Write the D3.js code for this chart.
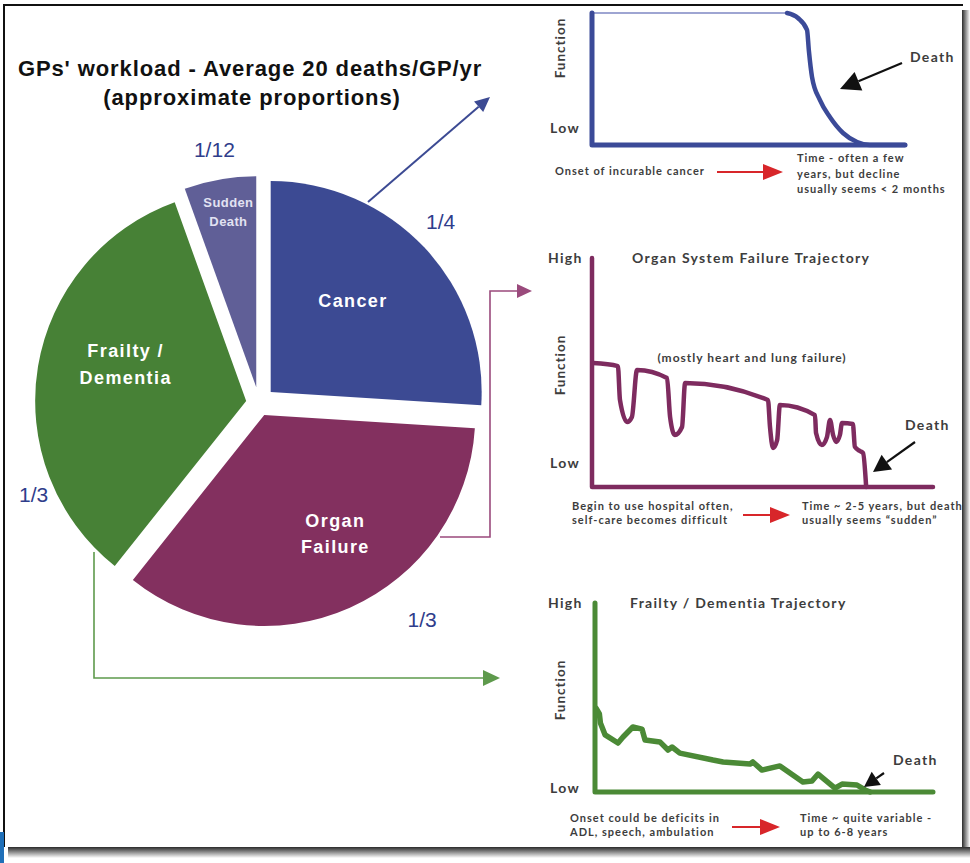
<!DOCTYPE html>
<html>
<head>
<meta charset="utf-8">
<script src="https://cdn.jsdelivr.net/npm/d3@7"></script>
<style>
  body { margin: 0; background: #fff; }
  svg { display: block; }
  .title { font-family: 'Liberation Sans', Arial, sans-serif; font-weight: bold; font-size: 22px; letter-spacing: 0.9px; fill: #111; text-anchor: middle; }
  .pie-label { font-family: 'Liberation Sans', Arial, sans-serif; font-weight: bold; text-anchor: middle; }
  .fraction { font-family: 'Liberation Sans', Arial, sans-serif; font-size: 21px; fill: #2f3d8b; text-anchor: middle; }
  .note { font-family: Lato, 'Open Sans', sans-serif; font-weight: bold; font-size: 11px; letter-spacing: 1px; fill: #3d3d3d; }
  .big { font-size: 14px; letter-spacing: 1.3px; }
</style>
</head>
<body>
<div id="chart"></div>
<script>
// pie slices, clockwise from 12 o'clock (shares as drawn, fractions as labelled)
const sliceLabels = [['Cancer'], ['Organ', 'Failure'], ['Frailty /', 'Dementia'], ['Sudden', 'Death']];
const sliceShares = [0.26, 0.347, 0.338, 0.055];
const sliceFractions = ['1/4', '1/3', '1/3', '1/12'];
const sliceColors = ['#3c4a93', '#83305f', '#478136', '#605f97'];

// trajectories: time (0-100) vs function (0-100)
const cancerTime = [0, 62.3, 65.8, 68.7, 69.3, 70.3, 72.8, 76, 80.2, 84.7, 88.8, 100];
const cancerFunction = [100, 100, 96.2, 87.1, 71.2, 51.5, 34.1, 21.2, 9.1, 2.3, 0, 0];

const organTime = [0.3, 7.6, 8.2, 10.3, 11.7, 13.2, 22, 22.9, 24.3, 26.4, 27.3, 51.6, 52.2, 53.1, 54.3, 55.1,
  65.4, 65.7, 67.4, 68.9, 69.8, 70.7, 71.6, 72.7, 73.3, 76.5, 77.1, 78.6, 79.5, 80.4];
const organFunction = [54.1, 52.8, 38, 28.4, 30.6, 51.1, 47.6, 30.6, 22.7, 26.2, 45.4, 38, 26.2, 17, 20.5, 35.8,
  31.4, 23.6, 18.3, 21.8, 29.3, 22.7, 19.7, 22.7, 27.9, 27.5, 17.5, 15.7, 14.8, 0];

const frailtyTime = [0.3, 1.3, 1.6, 3, 6.8, 8.3, 11.2, 13.9, 14.8, 19.2, 21.6, 22.8, 25.1, 34.9, 37.9, 45.9, 46.7,
  49.4, 54.7, 61.5, 64.2, 66, 71, 73.1, 77.5, 79.9, 81.4];
const frailtyFunction = [44.4, 41.3, 36.5, 30.2, 25.9, 29.1, 34.4, 33.3, 27.5, 26.5, 22.2, 23.8, 20.6, 16.9, 15.9,
  14.8, 15.9, 11.6, 13.8, 5.3, 5.8, 9.5, 2.1, 4.2, 3.7, 1.1, 0];

const width = 970, height = 863;

const svg = d3.select('#chart').append('svg')
  .attr('width', width)
  .attr('height', height);

const defs = svg.append('defs');
const shadowB = defs.append('linearGradient').attr('id', 'shadow-b').attr('x1', 0).attr('y1', 0).attr('x2', 0).attr('y2', 1);
shadowB.append('stop').attr('offset', 0).attr('stop-color', '#2a2a2a');
shadowB.append('stop').attr('offset', 1).attr('stop-color', '#fff');
const shadowR = defs.append('linearGradient').attr('id', 'shadow-r').attr('x1', 0).attr('y1', 0).attr('x2', 1).attr('y2', 0);
shadowR.append('stop').attr('offset', 0).attr('stop-color', '#2a2a2a');
shadowR.append('stop').attr('offset', 1).attr('stop-color', '#fff');
defs.append('clipPath').attr('id', 'frame-clip')
  .append('rect').attr('x', 4).attr('y', 5).attr('width', 958).attr('height', 842);

// frame with drop shadow
svg.append('rect').attr('x', 962).attr('y', 10).attr('width', 8).attr('height', 848).attr('fill', 'url(#shadow-r)');
svg.append('rect').attr('x', 8).attr('y', 847).attr('width', 962).attr('height', 11).attr('fill', 'url(#shadow-b)');
svg.append('line').attr('x1', 3).attr('y1', 5).attr('x2', 963).attr('y2', 5).attr('stroke', '#111').attr('stroke-width', 2);
svg.append('line').attr('x1', 4).attr('y1', 5).attr('x2', 4).attr('y2', 847).attr('stroke', '#111').attr('stroke-width', 2);
svg.append('rect').attr('x', 0).attr('y', 832).attr('width', 4).attr('height', 31).attr('fill', '#1f6fb8');

const g = svg.append('g').attr('clip-path', 'url(#frame-clip)');

function arrow(parent, pts, color, w, headLen, headHalf) {
  const [x2, y2] = pts[pts.length - 1];
  const [x1, y1] = pts[pts.length - 2];
  const ang = Math.atan2(y2 - y1, x2 - x1);
  const bx = x2 - headLen * Math.cos(ang), by = y2 - headLen * Math.sin(ang);
  const shaft = pts.slice(0, -1).concat([[bx, by]]);
  parent.append('path')
    .attr('d', d3.line()(shaft))
    .attr('fill', 'none')
    .attr('stroke', color)
    .attr('stroke-width', w);
  const nx = -Math.sin(ang) * headHalf, ny = Math.cos(ang) * headHalf;
  parent.append('path')
    .attr('d', `M${x2},${y2}L${bx + nx},${by + ny}L${bx - nx},${by - ny}Z`)
    .attr('fill', color);
}

// title
g.append('text').attr('class', 'title').attr('x', 250).attr('y', 76).text("GPs' workload - Average 20 deaths/GP/yr");
g.append('text').attr('class', 'title').attr('x', 252).attr('y', 105).text('(approximate proportions)');

// connectors from slices to trajectories
arrow(g, [[368, 202], [490, 97]], '#3c4a93', 2, 15, 7);
arrow(g, [[440, 537], [490, 537], [490, 291], [532, 291]], '#9a4a7c', 1.6, 15, 7);
arrow(g, [[94, 552], [94, 678], [500, 678]], '#5e9a4c', 1.6, 17, 8);

// pie
const pieCenter = [259, 403];
const radius = 211;
const explode = [16, 13, 13, 16];
const labelPolar = [[42, 123], [149, 138], [287, 126], [351, 178]];
const labelSize = [18, 18, 18, 13];
const labelGap = [0, 26, 27, 19];
const fractionPolar = [[45, 257], [143, 271], [248, 243], [350, 257]];

const pie = d3.pie().sort(null).value(d => d);
const arc = d3.arc().innerRadius(0).outerRadius(radius);
const arcs = pie(sliceShares);

const pieG = g.append('g').attr('transform', `translate(${pieCenter[0]},${pieCenter[1]})`);

const slices = pieG.selectAll('g.slice')
  .data(arcs)
  .enter().append('g')
    .attr('class', 'slice')
    .attr('transform', (d, i) => {
      const mid = (d.startAngle + d.endAngle) / 2;
      return `translate(${explode[i] * Math.sin(mid)},${-explode[i] * Math.cos(mid)})`;
    });

slices.append('path')
  .attr('d', arc)
  .attr('fill', (d, i) => sliceColors[i]);

slices.each(function(d, i) {
  const a = labelPolar[i][0] * Math.PI / 180, r = labelPolar[i][1];
  const lines = sliceLabels[i];
  const t = d3.select(this).append('text')
    .attr('class', 'pie-label')
    .attr('font-size', labelSize[i])
    .attr('letter-spacing', i === 3 ? 0.4 : 1.4)
    .attr('fill', i === 3 ? '#e2e2f2' : '#fff')
    .attr('transform', `translate(${r * Math.sin(a)},${-r * Math.cos(a)})`);
  lines.forEach((line, j) => {
    t.append('tspan')
      .attr('x', 0)
      .attr('y', (j - (lines.length - 1) / 2) * labelGap[i] + labelSize[i] * 0.36)
      .text(line);
  });
});

pieG.selectAll('text.fraction')
  .data(sliceFractions)
  .enter().append('text')
    .attr('class', 'fraction')
    .attr('x', (d, i) => fractionPolar[i][1] * Math.sin(fractionPolar[i][0] * Math.PI / 180))
    .attr('y', (d, i) => -fractionPolar[i][1] * Math.cos(fractionPolar[i][0] * Math.PI / 180))
    .attr('dy', '0.36em')
    .text(d => d);

// trajectory panels
function panel(cfg) {
  const x = d3.scaleLinear().domain([0, 100]).range(cfg.xRange);
  const y = d3.scaleLinear().domain([0, 100]).range(cfg.yRange);
  const p = g.append('g');
  const pts = d3.zip(cfg.time, cfg.func);

  if (cfg.plateau) {
    p.append('path')
      .attr('d', d3.line().x(d => x(d[0])).y(d => y(d[1]))(pts.slice(0, cfg.plateau + 1)))
      .attr('fill', 'none').attr('stroke', '#9ea5d2').attr('stroke-width', 2.2);
  }
  p.append('path')
    .attr('d', d3.line().x(d => x(d[0])).y(d => y(d[1])).curve(cfg.curve)(pts.slice(cfg.plateau || 0)))
    .attr('fill', 'none')
    .attr('stroke', cfg.color)
    .attr('stroke-width', cfg.lineWidth)
    .attr('stroke-linejoin', 'round')
    .attr('stroke-linecap', 'round');

  // axes
  p.append('path')
    .attr('d', d3.line()([[x(0), y(cfg.yTop)], [x(0), y(0)], [x(100), y(0)]]))
    .attr('fill', 'none')
    .attr('stroke', cfg.color)
    .attr('stroke-width', cfg.axisWidth)
    .attr('stroke-linecap', 'round')
    .attr('stroke-linejoin', 'round');

  const fx = 561, fy = (y(cfg.yTop) + y(0)) / 2 - cfg.funcShift;
  p.append('text').attr('class', 'note')
    .attr('transform', `translate(${fx + 4},${fy}) rotate(-90)`)
    .attr('text-anchor', 'middle').style('font-size', '13.5px').style('letter-spacing', '1px').text('Function');
  p.append('text').attr('class', 'note big').attr('x', 550).attr('y', y(0) - cfg.lowShift).text('Low');
  if (cfg.title) {
    p.append('text').attr('class', 'note big').attr('x', 548).attr('y', y(100) + 5).text('High');
    p.append('text').attr('class', 'note big').attr('x', cfg.titleX).attr('y', y(100) + 5).text(cfg.title);
  }
  if (cfg.sub) {
    p.append('text').attr('class', 'note').attr('x', cfg.sub[1]).attr('y', cfg.sub[2])
      .attr('text-anchor', 'middle').style('font-size', '12px').style('letter-spacing', '1px').text(cfg.sub[0]);
  }
  p.append('text').attr('class', 'note big').attr('x', cfg.death[0]).attr('y', cfg.death[1]).text('Death');
  arrow(p, cfg.deathArrow, '#111', 2.2, cfg.deathHead[0], cfg.deathHead[1]);

  cfg.left.forEach((s, j) => {
    p.append('text').attr('class', 'note').attr('x', cfg.leftX).attr('y', cfg.leftY + j * cfg.lineGap).text(s);
  });
  cfg.right.forEach((s, j) => {
    p.append('text').attr('class', 'note').attr('x', cfg.rightX).attr('y', cfg.rightY + j * cfg.lineGap).text(s);
  });
  arrow(p, cfg.red, '#d8262a', 2, 20, 8);
}

panel({
  time: cancerTime, func: cancerFunction, plateau: 1, curve: d3.curveMonotoneX,
  xRange: [592, 905], yRange: [145, 13], yTop: 100,
  color: '#3b4a98', lineWidth: 4.5, axisWidth: 5, funcShift: 31, lowShift: 12,
  death: [910, 62], deathArrow: [[902, 63], [840, 89]], deathHead: [20, 10],
  left: ['Onset of incurable cancer'], leftX: 555, leftY: 175,
  right: ['Time - often a few', 'years, but decline', 'usually seems < 2 months'], rightX: 797, rightY: 162, lineGap: 15.5,
  red: [[717, 172], [783, 172]]
});

panel({
  time: organTime, func: organFunction, curve: d3.curveMonotoneX,
  xRange: [592, 933], yRange: [487, 258], yTop: 100,
  color: '#7e2b5f', lineWidth: 4.5, axisWidth: 4.5, funcShift: 7.5, lowShift: 19,
  title: 'Organ System Failure Trajectory', titleX: 632,
  sub: ['(mostly heart and lung failure)', 752, 362],
  death: [905, 430], deathArrow: [[915, 442], [873, 472]], deathHead: [17, 9],
  left: ['Begin to use hospital often,', 'self-care becomes difficult'], leftX: 572, leftY: 510,
  right: ['Time ~ 2-5 years, but death', 'usually seems \u201Csudden\u201D'], rightX: 802, rightY: 510, lineGap: 13.5,
  red: [[743, 515], [790, 515]]
});

panel({
  time: frailtyTime, func: frailtyFunction, curve: d3.curveLinear,
  xRange: [595, 933], yRange: [792, 603], yTop: 100,
  color: '#4b8a36', lineWidth: 5.5, axisWidth: 5, funcShift: 7.5, lowShift: -1,
  title: 'Frailty / Dementia Trajectory', titleX: 630,
  death: [893, 765], deathArrow: [[884, 773], [864, 787]], deathHead: [15, 8],
  left: ['Onset could be deficits in', 'ADL, speech, ambulation'], leftX: 570, leftY: 822,
  right: ['Time ~ quite variable -', 'up to 6-8 years'], rightX: 800, rightY: 822, lineGap: 13.5,
  red: [[732, 827], [780, 827]]
});
</script>
</body>
</html>
